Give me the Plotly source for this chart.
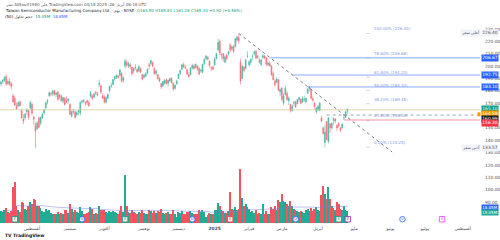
import plotly.graph_objects as go
import pandas as pd

# ---------------- data ----------------
holidays = ["2024-09-02", "2024-11-28", "2024-12-25", "2025-01-01", "2025-01-09",
            "2025-01-20", "2025-02-17", "2025-04-18"]
dates = pd.bdate_range("2024-07-08", "2025-04-25", freq="C", holidays=holidays)

opens = [185.5,187.5,188.5,191.5,186.0,187.5,185.5,176.0,174.0,168.0,168.0,171.0,164.0,157.0,158.0,163.0,164.0,166.0,
         169.0,158.5,152.0,149.0,158.0,154.0,158.0,162.0,166.0,171.0,176.0,177.5,177.5,180.0,177.0,179.0,175.0,176.0,171.5,174.0,172.0,172.0,
         169.0,159.5,163.0,163.0,160.5,163.0,162.0,171.0,171.5,170.5,172.0,170.5,175.5,176.0,175.0,179.0,177.5,185.0,184.0,176.0,
         175.0,170.5,174.0,180.0,184.0,185.0,189.5,191.0,192.0,192.5,194.0,188.5,200.0,203.0,200.0,201.0,199.0,196.0,199.0,197.5,196.0,198.0,193.0,
         191.0,192.0,194.0,201.0,202.0,203.0,198.0,194.0,193.0,190.0,186.0,184.0,186.0,189.0,186.0,188.0,190.0,186.0,182.0,185.5,
         190.0,194.0,197.5,201.0,199.0,197.0,193.0,193.0,198.5,200.0,199.0,200.0,198.0,196.0,195.0,202.0,206.0,207.0,204.0,198.5,199.0,
         201.0,206.0,213.0,220.0,209.0,210.0,203.0,209.0,210.0,217.0,214.0,216.0,216.0,221.0,223.0,203.0,190.0,199.0,198.0,208.0,
         201.0,203.0,208.0,210.0,212.0,207.0,205.0,201.0,207.0,208.0,206.5,201.0,202.0,200.0,194.0,188.0,187.0,189.0,179.0,
         182.0,170.0,177.0,178.0,172.0,169.0,164.0,170.0,171.0,169.5,173.0,173.0,171.0,172.5,171.0,178.0,181.5,181.0,173.5,170.0,163.0,
         165.0,164.0,158.0,150.0,138.0,155.0,139.0,153.0,150.0,157.5,155.5,152.0,153.5,150.0,150.0,158.0,158.5,163.5]
highs = [188.0,189.5,192.0,193.5,189.0,190.0,187.0,177.5,176.0,170.5,171.5,172.5,165.5,161.0,162.0,166.0,165.0,172.0,
         170.5,160.0,154.5,155.5,159.5,159.0,162.0,165.5,171.0,173.5,179.5,179.0,180.5,180.5,179.0,180.0,177.5,177.0,175.0,175.0,175.5,174.0,
         170.0,164.0,165.5,164.0,163.5,164.5,171.5,173.0,173.5,171.5,173.0,172.5,180.0,177.0,178.0,180.0,179.0,189.0,185.0,178.0,
         176.5,175.5,178.0,184.0,186.5,189.5,192.0,193.5,193.0,197.5,195.0,191.5,206.0,205.0,203.5,202.5,199.5,199.0,201.5,198.0,201.0,199.0,193.5,
         194.0,195.0,198.0,203.0,205.0,203.5,199.0,197.0,193.5,191.0,186.5,188.0,189.5,190.0,189.0,190.5,191.0,187.0,185.0,189.0,
         194.0,197.0,202.0,203.0,201.0,198.0,195.0,199.0,202.0,201.5,202.0,200.5,199.5,198.0,202.0,206.0,209.0,208.0,204.5,200.0,200.5,
         207.0,211.0,222.0,221.5,211.0,210.5,208.0,210.0,212.5,218.5,217.0,217.0,222.5,224.5,226.4,206.0,200.5,200.0,206.0,212.0,
         204.5,206.0,209.5,212.5,213.0,209.0,206.5,205.5,209.5,209.0,207.5,203.5,204.0,200.5,195.5,189.5,191.0,189.5,182.0,
         183.0,178.0,184.0,179.5,175.5,169.5,169.0,172.0,172.0,173.5,175.0,174.0,175.5,176.0,174.5,182.0,184.0,181.5,175.5,170.5,167.0,
         168.5,171.0,160.0,151.0,152.0,155.5,159.0,154.0,154.5,158.5,158.0,153.0,154.5,150.5,153.5,161.0,163.5,165.81]
lows = [183.5,185.5,187.0,184.0,184.5,184.0,181.0,170.0,167.5,164.5,166.5,167.5,157.5,153.0,156.5,160.5,156.5,165.0,
        160.0,152.5,133.57,148.5,149.5,152.0,157.0,160.5,165.5,169.0,175.0,175.5,176.0,176.0,175.0,172.0,173.0,171.0,170.0,168.0,170.0,169.5,
        160.5,158.5,161.0,157.5,159.0,160.5,160.0,169.5,170.0,168.0,168.5,167.0,174.5,172.5,174.0,176.5,175.5,183.0,177.5,173.5,
        169.5,170.0,173.0,178.5,182.5,184.5,188.0,189.5,189.5,192.0,186.5,186.5,198.0,199.0,198.5,197.5,192.0,194.5,197.0,194.5,195.0,194.5,188.5,
        190.0,191.0,193.5,197.5,200.5,199.0,193.0,192.5,189.0,187.0,181.5,183.0,185.0,185.0,183.5,187.0,186.0,180.0,181.0,185.0,
        189.5,193.0,197.0,198.5,197.5,192.5,190.0,192.5,197.0,197.0,198.0,196.0,192.5,194.5,194.5,201.0,205.0,204.5,199.0,196.0,196.5,
        200.0,205.5,212.0,208.5,205.5,203.5,202.5,204.5,208.5,211.0,212.0,210.5,215.0,219.5,218.0,185.0,189.5,195.0,197.5,206.5,
        199.5,201.0,205.0,208.5,205.5,205.5,202.0,200.5,205.5,205.5,200.0,200.0,199.5,192.0,188.5,183.5,186.0,180.0,176.0,
        171.5,168.5,176.0,172.0,168.5,162.5,163.0,167.5,166.0,169.0,171.0,169.0,170.0,171.0,170.0,177.5,179.5,173.0,171.0,165.5,161.5,
        163.5,163.5,154.5,144.5,134.25,140.0,137.5,146.0,148.5,152.5,154.0,147.5,150.0,146.5,149.5,156.5,158.0,161.18]
closes = [187.0,188.5,190.5,185.5,187.5,185.0,183.5,171.0,168.5,165.5,170.5,168.0,158.0,155.5,161.0,164.5,158.5,170.5,
          162.0,157.0,147.5,154.0,150.5,158.5,161.0,164.5,170.5,172.0,178.5,177.5,180.0,177.0,178.0,173.0,176.5,172.0,174.5,169.0,171.0,173.5,
          161.0,163.0,163.5,158.5,162.5,164.0,170.5,171.5,172.0,170.0,170.5,168.0,178.5,174.0,177.5,178.0,176.5,186.0,179.0,174.0,
          171.0,174.5,177.0,183.5,184.0,189.0,191.5,192.5,191.0,197.0,188.0,190.5,204.0,201.0,202.0,199.5,194.0,198.0,198.5,195.5,199.5,195.0,189.5,
          192.5,193.5,197.5,200.0,204.5,200.0,194.0,196.0,190.0,188.0,183.0,187.5,188.5,186.0,188.5,190.0,186.5,181.5,184.5,188.0,
          193.5,196.5,201.0,199.5,198.5,193.5,191.5,198.5,200.5,198.0,201.5,197.5,193.5,196.5,201.5,205.5,208.0,205.5,200.5,198.5,197.5,
          205.5,210.0,219.0,210.5,209.5,206.0,207.5,206.0,211.5,213.0,215.5,212.0,222.0,223.5,220.5,188.0,200.0,196.5,205.0,208.0,
          203.5,205.5,208.0,211.5,206.5,208.0,203.0,205.0,208.5,206.5,201.5,202.5,200.0,193.0,189.0,185.0,189.5,180.5,181.0,
          173.0,176.0,182.0,173.0,174.0,164.0,167.5,170.5,167.0,173.0,174.5,170.0,174.0,173.0,174.0,181.5,183.0,174.0,172.5,167.0,166.0,
          167.5,170.0,155.5,145.5,146.5,140.5,158.0,150.0,153.5,156.0,157.0,150.0,151.5,148.0,153.0,158.0,163.0,165.10]
volumes = [15,14,16,19,14,13,15,45,52,22,16,14,26,25,18,16,21,26,
           24,31,29,22,21,19,15,14,18,15,17,13,12,12,11,14,12,13,12,16,16,13,
           24,18,14,17,14,13,20,15,12,12,13,14,20,18,12,13,11,21,17,16,
           17,14,13,15,14,15,14,13,11,15,21,14,61,22,14,13,17,14,13,12,14,13,17,
           13,12,12,17,15,13,15,13,15,14,18,13,12,13,14,11,12,16,12,8,
           14,13,15,12,11,14,14,15,13,12,12,12,17,14,16,14,8,10,13,12,11,
           17,16,25,22,16,15,13,13,15,39,18,16,20,16,18,68,32,22,24,20,
           18,14,15,13,17,12,13,12,24,11,15,12,12,20,18,21,17,29,26,
           37,28,27,24,22,28,22,18,16,15,14,15,14,13,16,18,15,19,15,18,20,
           17,15,35,47,37,30,46,30,21,19,17,26,24,18,17,21,17,15.05]

month_labels = ["أغسطس", "سبتمبر", "أكتوبر", "نوفمبر", "ديسمبر", "<b>2025</b>",
                "فبراير", "مارس", "أبريل", "مايو", "يونيو", "يوليو", "أغسطس"]
month_starts = ["2024-08-01", "2024-09-03", "2024-10-01", "2024-11-01", "2024-12-02",
                "2025-01-02", "2025-02-03", "2025-03-03", "2025-04-01"]
future_bars_to_month = [4, 25, 45, 67]   # trading days after last bar to May/Jun/Jul/Aug 1st

price_ticks = [230, 220, 210, 200, 190, 180, 170, 150, 140, 130, 120, 110, 100, 90]

hi_price, lo_price = 226.40, 134.25
fib_levels = [1.0, 0.786, 0.618, 0.5, 0.382, 0.236, 0.0]
ray_prices = [206.67, 192.75, 183.10]
alert_price = 156.30
hline_price = 164.60
post_price = 160.40
post_label, prev_label = "164.58", "160.99"
vol_ma_label, vol_label = "18.85M", "15.05M"

# ---------------- build ----------------
idx = list(range(len(dates)))
pos = {d.strftime("%Y-%m-%d"): i for i, d in enumerate(dates)}
tickvals = [pos[m] for m in month_starts] + [idx[-1] + k for k in future_bars_to_month]

inc = "#089981"
dec = "#f23645"
vcol = ["#22ab94" if c >= o else "#f7525f" for o, c in zip(opens, closes)]
vol_ma = pd.Series(volumes).rolling(50, min_periods=1).mean()

Y_TOP, PX_PER = 253.46, 1.2357          # price axis: pixel row -> price
def py(px):
    return Y_TOP - px / PX_PER

fig = go.Figure()
fig.add_trace(go.Bar(x=idx, y=volumes, marker_color=vcol, marker_line_width=0,
                     width=0.75, yaxis="y2", showlegend=False))
fig.add_trace(go.Scatter(x=idx, y=vol_ma, mode="lines", yaxis="y2",
                         line=dict(color="rgba(120,123,220,0.45)", width=1), showlegend=False))
fig.add_trace(go.Candlestick(x=idx, open=opens, high=highs, low=lows, close=closes,
                             increasing=dict(line=dict(color=inc, width=0.6), fillcolor=inc),
                             decreasing=dict(line=dict(color=dec, width=0.6), fillcolor=dec),
                             whiskerwidth=0, opacity=0.72, showlegend=False))

X0, X1 = -0.58, 278.0
t_i0 = pos["2025-01-24"]
t_slope = (130.5 - hi_price) / (227 - t_i0)
shapes = [dict(type="line", xref="x", yref="y", x0=t_i0, y0=hi_price, x1=227, y1=130.5,
               line=dict(color="#7d7f88", width=1, dash="dot"))]
for p in ray_prices:
    xs = t_i0 + (p - hi_price) / t_slope
    shapes.append(dict(type="line", xref="x", yref="y", x0=xs, x1=X1, y0=p, y1=p,
                       line=dict(color="rgba(41,98,255,0.55)", width=1)))
xs = t_i0 + (alert_price - hi_price) / t_slope
shapes.append(dict(type="line", xref="x", yref="y", x0=xs - 4, x1=X1, y0=alert_price, y1=alert_price,
                   line=dict(color="rgba(242,54,69,0.35)", width=1.5)))
shapes.append(dict(type="line", xref="x", yref="y", x0=X0, x1=X1, y0=hline_price, y1=hline_price,
                   line=dict(color="rgba(210,190,140,0.45)", width=1.5)))
shapes.append(dict(type="line", xref="x", yref="y", x0=189, x1=X1, y0=post_price, y1=post_price,
                   line=dict(color="#8a8d96", width=0.8, dash="dot")))

annotations = []
fib_x = 213.5
for f in fib_levels:
    p = lo_price + f * (hi_price - lo_price)
    shapes.append(dict(type="line", xref="x", yref="y", x0=fib_x - 1.5, x1=fib_x + 0.5, y0=p, y1=p,
                       line=dict(color="rgba(120,140,220,0.5)", width=0.8)))
    annotations.append(dict(x=fib_x + 2, y=p, xref="x", yref="y", xanchor="left", yanchor="bottom",
                            text=f"{f*100:.2f}% ({p:.2f})", showarrow=False,
                            font=dict(size=4, color="#7f98e6")))

def plabel(price, text, bg, fg="white", size=4.4):
    annotations.append(dict(x=0.962, y=price, xref="paper", yref="y", xanchor="left", yanchor="middle",
                            text=text, showarrow=False, bgcolor=bg, borderpad=0.3,
                            font=dict(size=size, color=fg)))

for p in ray_prices:
    plabel(p, f"{p:.2f}", "#2962ff")
plabel(closes[-1], f"{closes[-1]:.2f}", inc)
plabel(py(114.3), post_label, "#ff9800")
plabel(py(118.8), prev_label, "#131722")
plabel(py(123.3), f"{alert_price:.2f}", dec)
shapes.append(dict(type="rect", xref="paper", yref="y", x0=0.955, x1=0.961,
                   y0=py(112.3), y1=py(116.3), fillcolor="#ff9800", line=dict(width=0)))

for p, val, tag in [(hi_price, hi_price, "أعلى سعر"), (py(148), 133.57, "أدنى سعر")]:
    plabel(p, f"{val:.2f}", "#f0f3fa", fg="#4a4d57")
    annotations.append(dict(x=0.962, y=p, xref="paper", yref="y", xanchor="right", yanchor="middle",
                            text=tag, showarrow=False, bgcolor="#f0f3fa",
                            font=dict(size=4.0, color="#4a4d57"), borderpad=0.3))

for ypx, txt, bg in [(207.6, vol_ma_label, "#2962ff"), (212.6, vol_label, "#22ab94")]:
    annotations.append(dict(x=0.962, y=1 - ypx / 240, xref="paper", yref="paper", xanchor="left",
                            yanchor="middle", text=txt, showarrow=False, bgcolor=bg,
                            font=dict(size=4.0, color="white"), borderpad=0.2))

LRM = "\u200e"
hdr = dict(xref="paper", yref="paper", xanchor="left", yanchor="middle", showarrow=False)
annotations.append(dict(hdr, x=0.006, y=1 - 4.2/240,
                        text=f"نشر{LRM} AliSoult1980 على{LRM} TradingView.com{LRM} 04/18 2025 ،26 أبريل{LRM} 08:18 UTC",
                        font=dict(size=4.0, color="#555")))
annotations.append(dict(hdr, x=0.006, y=1 - 10.6/240,
                        text=f"Taiwan Semiconductor Manufacturing Company Ltd. · يوم{LRM} · NYSE  "
                             "<span style='color:#089981'>O163.50 H165.81 L161.18 C165.10 +0.92 (+0.56%)</span>",
                        font=dict(size=4.0, color="#131722")))
annotations.append(dict(hdr, x=0.006, y=1 - 16.4/240,
                        text=f"{LRM}(50) حجم تداول{LRM}  <span style='color:#089981'>15.05M</span>  "
                             "<span style='color:#2962ff'>18.85M</span>",
                        font=dict(size=4.0, color="#131722")))
annotations.append(dict(hdr, x=0.006, y=1 - 235/240, text="<b>𝗧𝗩 TradingView</b>",
                        font=dict(size=4.5, color="#131722")))

# event icons
ev_dates = ["2024-07-18", "2024-09-12", "2024-10-17", "2024-12-12", "2025-01-16",
            "2025-03-13", "2025-04-17"]
ev_kind = ["E", "D", "E", "D", "E", "D", "E"]
ev_col = ["#089981", "#2962ff", "#089981", "#2962ff", "#f23645", "#2962ff", "#089981"]
ev_x = [pos[d] for d in ev_dates] + [idx[-1] + 0.3, idx[-1] + 32, idx[-1] + 55]
ev_kind += ["E", "D", "E"]
ev_col += ["#9c27b0", "#2962ff", "#e040fb"]
ev_sym = ["square" if k == "E" else "circle" for k in ev_kind]
fig.add_trace(go.Scatter(x=ev_x, y=[4.8] * len(ev_x), yaxis="y2", mode="markers+text",
                         marker=dict(symbol=ev_sym, size=5.5, color="rgba(255,255,255,0.9)",
                                     line=dict(color=ev_col, width=0.8)),
                         text=ev_kind, textfont=dict(size=3.3, color=ev_col),
                         textposition="middle center", showlegend=False))

fig.update_layout(
    width=500, height=240, margin=dict(l=0, r=0, t=0, b=0),
    paper_bgcolor="white", plot_bgcolor="white",
    font=dict(family="DejaVu Sans, Noto Sans, sans-serif"),
    xaxis=dict(range=[X0, X1], domain=[0, 0.96], showgrid=False, zeroline=False,
               tickvals=tickvals, ticktext=month_labels, tickfont=dict(size=4.4, color="#4a4d57"),
               ticks="", ticklabelstandoff=1, rangeslider=dict(visible=False), fixedrange=True),
    yaxis=dict(range=[72.23, Y_TOP], domain=[16/240, 1], side="right", showgrid=False,
               zeroline=False, tickvals=price_ticks, ticktext=[f"{v:.2f}" for v in price_ticks],
               tickfont=dict(size=4.4, color="#4a4d57"), ticks="", ticklabelstandoff=4),
    yaxis2=dict(range=[-1.27, 282.3], domain=[16/240, 1], overlaying="y", visible=False),
    shapes=shapes, annotations=annotations, bargap=0, showlegend=False,
)
fig.write_html("out.html")
